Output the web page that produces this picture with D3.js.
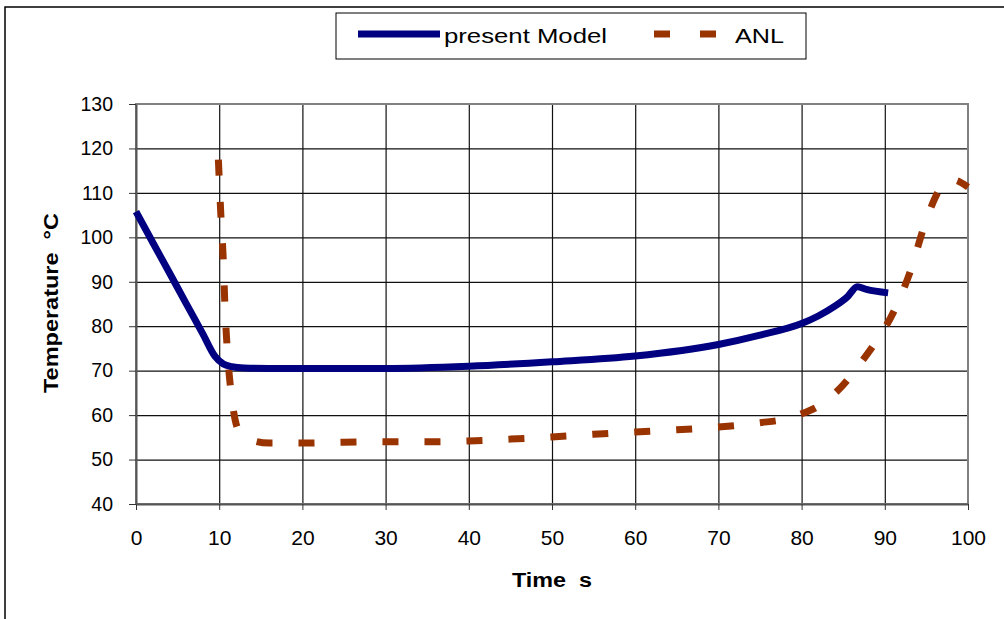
<!DOCTYPE html>
<html>
<head>
<meta charset="utf-8">
<script src="https://cdn.jsdelivr.net/npm/d3@7"></script>
<style>
  body { margin: 0; background: #fff; }
  svg { display: block; font-family: "Liberation Sans", Arial, sans-serif; }
</style>
</head>
<body>
<div id="chart"></div>
<script>
// === DATA ===
const seriesNames = ["present Model", "ANL"];
const xTicks = [0, 10, 20, 30, 40, 50, 60, 70, 80, 90, 100];
const yTicks = [40, 50, 60, 70, 80, 90, 100, 110, 120, 130];

// present Model: time (s) / temperature (°C)
const modelTime = [0, 2, 4, 6, 8, 9.5, 10.5, 11.5, 13, 16, 20, 30, 40, 50, 60, 70, 75, 80, 82, 84, 85.5, 86.7, 87.8, 90.4];
const modelTemp = [105.8, 98.9, 92.1, 85.2, 78.4, 73.2, 71.5, 70.9, 70.6, 70.5, 70.5, 70.5, 71.0, 72.0, 73.3, 75.9, 78.0, 80.6, 82.3, 84.5, 86.6, 88.9, 88.3, 87.5];

// ANL: time (s) / temperature (°C)
const anlTime = [9.9, 10.2, 10.5, 10.7, 11, 11.5, 12.4, 14, 16, 20, 25, 30, 35, 40, 45, 50, 55, 60, 65, 70, 75, 78, 80, 82, 85, 87, 89, 91, 93, 95, 96.5, 98, 100];
const anlTemp = [117.5, 105, 94.5, 84, 74, 64, 56.3, 54.3, 53.7, 53.7, 53.9, 54, 54, 54.2, 54.6, 55.1, 55.7, 56.2, 56.7, 57.3, 58.3, 59.1, 60.3, 62, 66.8, 71.5, 76.7, 83, 92, 104, 110.5, 113, 111.3];

(function () {
  const W = 1004, H = 619;
  const margin = { top: 104, left: 136 },
        width = 832,
        height = 400;

  const svg = d3.select("#chart").append("svg")
    .attr("width", W).attr("height", H);

  // outer chart frame (runs off the right/bottom of the picture)
  svg.append("rect")
    .attr("x", 5).attr("y", 7)
    .attr("width", W + 10).attr("height", H + 10)
    .attr("fill", "none").attr("stroke", "#000").attr("stroke-width", 1.5);

  const g = svg.append("g")
    .attr("transform", `translate(${margin.left},${margin.top})`);

  const x = d3.scaleLinear().domain([0, 100]).range([0, width]);
  const y = d3.scaleLinear().domain([40, 130]).range([height, 0]);

  // gridlines
  g.append("g")
    .attr("transform", `translate(0,${height})`)
    .call(d3.axisBottom(x).tickValues(xTicks.slice(1, -1)).tickSize(-height).tickFormat(""))
    .call(s => s.select(".domain").remove())
    .selectAll("line").attr("stroke", "#111").attr("stroke-width", 1.2);

  g.append("g")
    .call(d3.axisLeft(y).tickValues(yTicks.slice(1, -1)).tickSize(-width).tickFormat(""))
    .call(s => s.select(".domain").remove())
    .selectAll("line").attr("stroke", "#111").attr("stroke-width", 1.2);

  // plot area border
  g.append("rect")
    .attr("width", width).attr("height", height)
    .attr("fill", "none").attr("stroke", "#808080").attr("stroke-width", 2);

  // axes
  const xAxis = g.append("g")
    .attr("transform", `translate(0,${height})`)
    .call(d3.axisBottom(x).tickValues(xTicks).tickSize(6).tickSizeOuter(0).tickPadding(20));
  xAxis.select(".domain").attr("stroke", "#555").attr("stroke-width", 2);
  xAxis.selectAll("line").attr("stroke", "#333");
  xAxis.selectAll("text").attr("fill", "#000").style("font-size", "21px");

  const yAxis = g.append("g")
    .call(d3.axisLeft(y).tickValues(yTicks).tickSize(7).tickSizeOuter(0).tickPadding(16));
  yAxis.select(".domain").attr("stroke", "#555").attr("stroke-width", 2);
  yAxis.selectAll("line").attr("stroke", "#333");
  yAxis.selectAll("text").attr("fill", "#000").style("font-size", "19.5px");

  // series lines
  const line = d3.line()
    .x(d => x(d[0]))
    .y(d => y(d[1]))
    .curve(d3.curveMonotoneX);

  const modelData = modelTime.map((t, i) => [t, modelTemp[i]]);
  const anlData = anlTime.map((t, i) => [t, anlTemp[i]]);

  g.append("path")
    .datum(anlData)
    .attr("d", line)
    .attr("fill", "none")
    .attr("stroke", "#993300")
    .attr("stroke-width", 7)
    .attr("stroke-dasharray", "16,26");

  g.append("path")
    .datum(modelData)
    .attr("d", line)
    .attr("fill", "none")
    .attr("stroke", "#000080")
    .attr("stroke-width", 7)
    .attr("stroke-linejoin", "round");

  // axis titles (text is a bit wider than the font in the original, so stretch it)
  svg.append("text")
    .attr("x", 512).attr("y", 587)
    .attr("textLength", 80).attr("lengthAdjust", "spacingAndGlyphs")
    .style("font-size", "20px").style("font-weight", "bold")
    .style("white-space", "pre")
    .text("Time  s");

  svg.append("text")
    .attr("transform", "translate(58,393) rotate(-90)")
    .attr("textLength", 180).attr("lengthAdjust", "spacingAndGlyphs")
    .style("font-size", "20px").style("font-weight", "bold")
    .style("white-space", "pre")
    .text("Temperature  \u00B0C");

  // legend
  const legend = svg.append("g");
  legend.append("rect")
    .attr("x", 336).attr("y", 13)
    .attr("width", 470).attr("height", 46)
    .attr("fill", "#fff").attr("stroke", "#000").attr("stroke-width", 1);

  legend.append("line")
    .attr("x1", 358).attr("x2", 440).attr("y1", 34).attr("y2", 34)
    .attr("stroke", "#000080").attr("stroke-width", 7);
  legend.append("text")
    .attr("x", 444).attr("y", 43)
    .attr("textLength", 163).attr("lengthAdjust", "spacingAndGlyphs")
    .style("font-size", "20.5px")
    .text(seriesNames[0]);

  legend.append("line")
    .attr("x1", 654).attr("x2", 716).attr("y1", 34).attr("y2", 34)
    .attr("stroke", "#993300").attr("stroke-width", 7)
    .attr("stroke-dasharray", "16,30");
  legend.append("text")
    .attr("x", 735).attr("y", 43)
    .attr("textLength", 49).attr("lengthAdjust", "spacingAndGlyphs")
    .style("font-size", "20.5px")
    .text(seriesNames[1]);
})();
</script>
</body>
</html>
